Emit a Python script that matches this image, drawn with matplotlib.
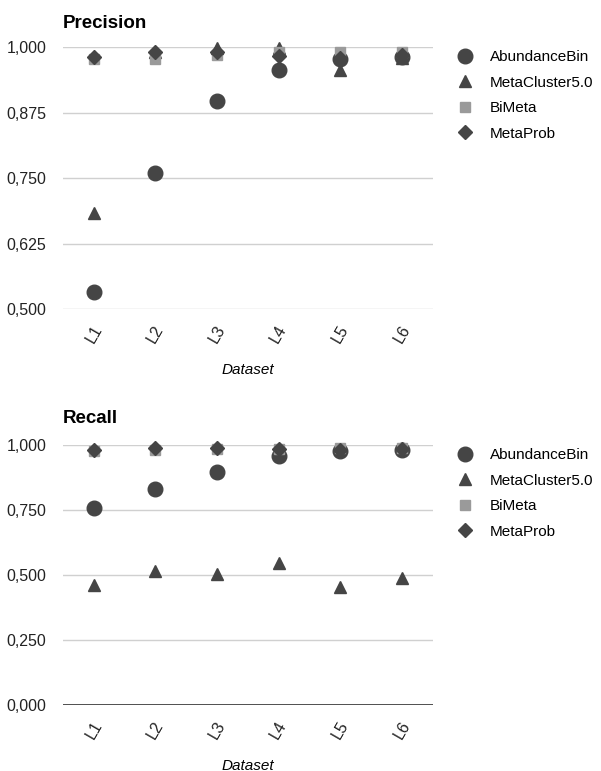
import matplotlib
matplotlib.use('Agg')
import matplotlib.pyplot as plt
from matplotlib.ticker import FuncFormatter

plt.rcParams['font.family'] = ['Liberation Sans', 'DejaVu Sans']

datasets = ['L1', 'L2', 'L3', 'L4', 'L5', 'L6']
methods = ['AbundanceBin', 'MetaCluster5.0', 'BiMeta', 'MetaProb']

# precision per method, L1..L6
prec_abundancebin = [0.532, 0.760, 0.897, 0.956, 0.977, 0.981]
prec_metacluster = [0.683, 0.990, 0.998, 0.998, 0.957, 0.980]
prec_bimeta = [0.978, 0.977, 0.985, 0.990, 0.990, 0.990]
prec_metaprob = [0.981, 0.990, 0.990, 0.983, 0.980, 0.985]

# recall per method, L1..L6
rec_abundancebin = [0.758, 0.831, 0.896, 0.958, 0.977, 0.980]
rec_metacluster = [0.462, 0.515, 0.505, 0.545, 0.454, 0.490]
rec_bimeta = [0.978, 0.980, 0.985, 0.985, 0.990, 0.990]
rec_metaprob = [0.980, 0.990, 0.990, 0.985, 0.982, 0.985]

styles = [('o', 10.5, '#454545'), ('^', 8, '#454545'), ('s', 6.5, '#9a9a9a'), ('D', 7, '#454545')]

fig = plt.figure(figsize=(6.01, 7.71), dpi=100)
ax1 = fig.add_axes([0.1048, 0.5992, 0.6156, 0.3398])
ax2 = fig.add_axes([0.1048, 0.0856, 0.6156, 0.3372])

fmt = FuncFormatter(lambda v, p: f'{v:.3f}'.replace('.', ','))

def draw(ax, title, series, ticks, ylim, tpad):
    x = list(range(len(datasets)))
    for name, vals, (m, ms, c) in zip(methods, series, styles):
        ax.plot(x, vals, linestyle='none', marker=m, markersize=ms, color=c,
                label=name, clip_on=False, zorder=3)
    ax.set_xlim(-0.5, 5.5)
    ax.set_ylim(*ylim)
    ax.set_yticks(ticks)
    ax.yaxis.set_major_formatter(fmt)
    ax.grid(axis='y', color='#d0d0d0', lw=1)
    ax.set_axisbelow(True)
    for s in ax.spines.values():
        s.set_visible(False)
    ax.tick_params(length=0, labelsize=11.5, colors='#222222')
    ax.tick_params(axis='y', pad=12)
    ax.tick_params(axis='x', pad=10)
    ax.set_xticks(x)
    ax.set_xticklabels(datasets, rotation=60, ha='center', fontsize=11.5)
    ax.set_xlabel('Dataset', fontstyle='italic', fontsize=11, labelpad=12)
    ax.set_title(title, loc='left', fontweight='bold', fontsize=13.5, pad=tpad)
    ax.legend(loc='upper left', bbox_to_anchor=(1.03, 1.04), frameon=False,
              fontsize=11, handletextpad=1.1, labelspacing=0.75, numpoints=1,
              handlelength=1.0)

draw(ax1, 'Precision', [prec_abundancebin, prec_metacluster, prec_bimeta, prec_metaprob],
     [0.5, 0.625, 0.75, 0.875, 1.0], (0.5, 1.0), 14)
draw(ax2, 'Recall', [rec_abundancebin, rec_metacluster, rec_bimeta, rec_metaprob],
     [0.0, 0.25, 0.5, 0.75, 1.0], (0.0, 1.0), 16)
ax2.axhline(0, color='#333333', lw=1.2, zorder=2)

fig.savefig('out.png', dpi=100)
